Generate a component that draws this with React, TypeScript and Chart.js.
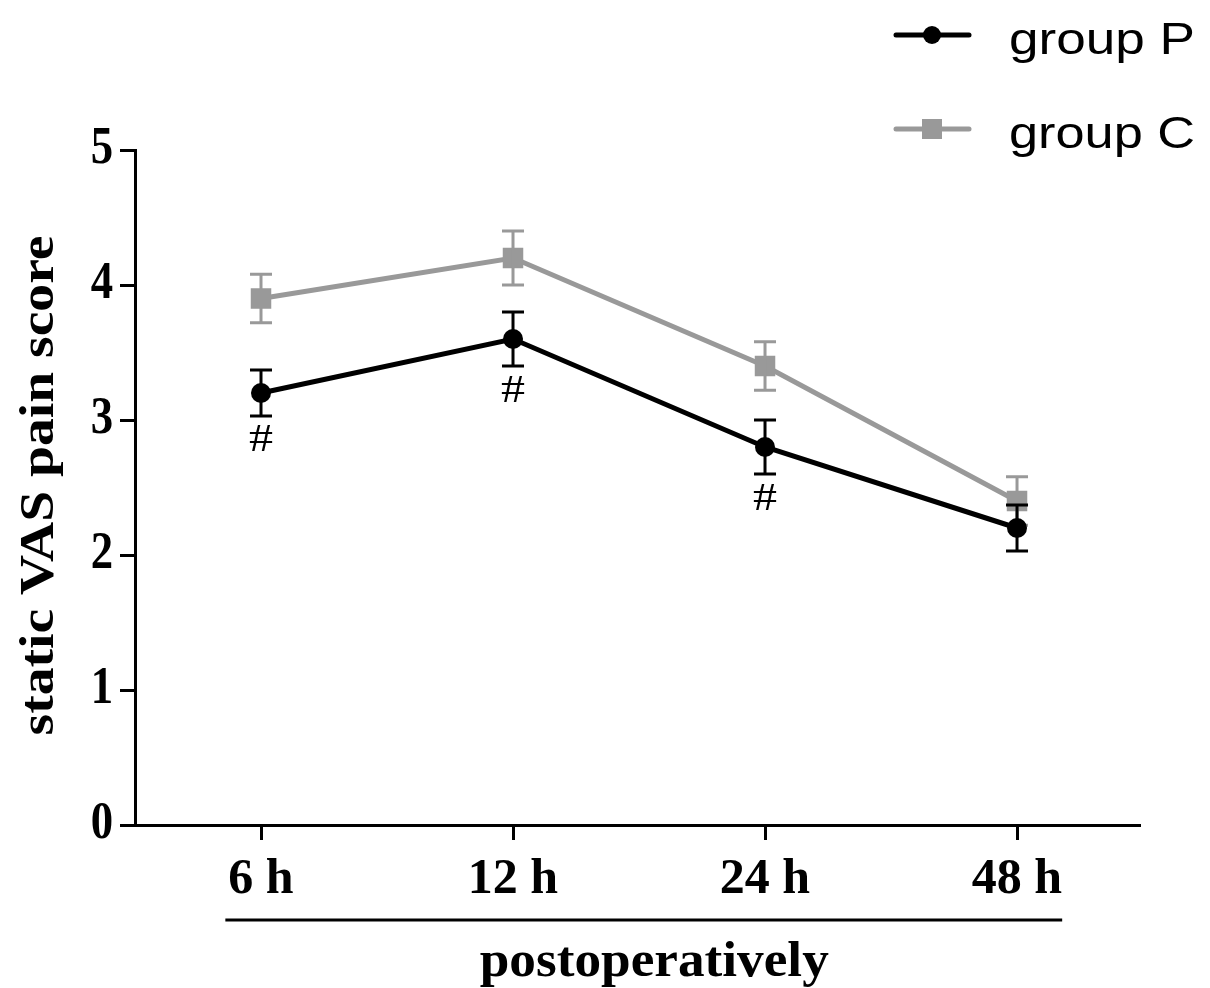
import React, { useEffect, useRef } from 'react';
import { Chart, registerables } from 'chart.js';

Chart.register(...registerables);

// ---------- data ----------
const categories = ['6 h', '12 h', '24 h', '48 h'];
const groupPLabel = 'group P';
const groupCLabel = 'group C';
const groupP = [3.2, 3.6, 2.8, 2.2];
const groupPErr = [0.17, 0.2, 0.2, 0.17];
const groupC = [3.9, 4.2, 3.4, 2.4];
const groupCErr = [0.18, 0.2, 0.18, 0.18];
const significant = [true, true, true, false];
const yTicks = [0, 1, 2, 3, 4, 5];
const yTitle = 'static VAS pain score';
const xTitle = 'postoperatively';

const SERIF = '"Liberation Serif", "Times New Roman", serif';
const SANS = '"Liberation Sans", Arial, sans-serif';
const GRAY = '#999999';

function drawText(
  ctx: CanvasRenderingContext2D,
  text: string,
  x: number,
  y: number,
  font: string,
  o: { align?: CanvasTextAlign; baseline?: CanvasTextBaseline; width?: number; sx?: number; sy?: number; rotate?: number; color?: string } = {}
) {
  ctx.save();
  ctx.font = font;
  ctx.fillStyle = o.color || '#000';
  ctx.textAlign = o.align || 'left';
  ctx.textBaseline = o.baseline || 'alphabetic';
  const w = ctx.measureText(text).width;
  let sx = o.sx ?? 1;
  if (o.width) sx = o.width / w;
  const sy = o.sy ?? 1;
  ctx.translate(x, y);
  if (o.rotate) ctx.rotate(o.rotate);
  ctx.scale(sx, sy);
  ctx.fillText(text, 0, 0);
  ctx.restore();
  return w * sx;
}

const decorations = {
  id: 'decorations',
  afterDatasetDraw(chart: any, args: any) {
    const ctx: CanvasRenderingContext2D = chart.ctx;
    const ds = chart.data.datasets[args.index];
    const xs = chart.scales.x;
    const ys = chart.scales.y;
    const errs: number[] = ds.errors || [];
    ctx.save();
    ctx.strokeStyle = ds.borderColor;
    ctx.lineWidth = 3;
    ds.data.forEach((p: any, j: number) => {
      const e = errs[j];
      const x = xs.getPixelForValue(p.x);
      const yt = ys.getPixelForValue(p.y + e);
      const yb = ys.getPixelForValue(p.y - e);
      ctx.beginPath();
      ctx.moveTo(x, yt);
      ctx.lineTo(x, yb);
      ctx.moveTo(x - 11, yt);
      ctx.lineTo(x + 11, yt);
      ctx.moveTo(x - 11, yb);
      ctx.lineTo(x + 11, yb);
      ctx.stroke();
    });
    ctx.restore();
  },
  afterDraw(chart: any) {
    const ctx: CanvasRenderingContext2D = chart.ctx;
    const xs = chart.scales.x;
    const ys = chart.scales.y;
    const area = chart.chartArea;

    // y tick labels
    yTicks.forEach((v) => {
      drawText(ctx, String(v), area.left - 22, ys.getPixelForValue(v), `bold 52px ${SERIF}`, {
        align: 'right',
        baseline: 'middle',
        sx: 0.86,
      });
    });

    // x tick labels
    const xFont = `bold 50px ${SERIF}`;
    let left = 0;
    let right = 0;
    categories.forEach((c, i) => {
      const px = xs.getPixelForValue(i + 1);
      const w = drawText(ctx, c, px, area.bottom + 68, xFont, { align: 'center' });
      if (i === 0) left = px - w / 2;
      if (i === categories.length - 1) right = px + w / 2;
    });

    // underline
    ctx.save();
    ctx.strokeStyle = '#000';
    ctx.lineWidth = 3;
    ctx.beginPath();
    ctx.moveTo(left - 3, area.bottom + 95);
    ctx.lineTo(right, area.bottom + 95);
    ctx.stroke();
    ctx.restore();

    // x title
    drawText(ctx, xTitle, (left + right) / 2 + 9, area.bottom + 151, `bold 50px ${SERIF}`, {
      align: 'center',
      width: 349,
    });

    // y title
    drawText(ctx, yTitle, 53, (area.top + area.bottom) / 2 - 2, `bold 49px ${SERIF}`, {
      align: 'center',
      rotate: -Math.PI / 2,
      width: 500,
    });

    // significance marks
    const pDs = chart.data.datasets[0];
    pDs.data.forEach((p: any, j: number) => {
      if (!significant[j]) return;
      const x = xs.getPixelForValue(p.x);
      const yb = ys.getPixelForValue(p.y - pDs.errors[j]);
      drawText(ctx, '#', x, yb + 25, `40px ${SERIF}`, { align: 'center', baseline: 'middle', sx: 1.2 });
    });

    // legend
    const items = [
      { label: groupPLabel, color: '#000', style: 'circle', y: 35 },
      { label: groupCLabel, color: GRAY, style: 'rect', y: 129 },
    ];
    items.forEach((it) => {
      ctx.save();
      ctx.strokeStyle = it.color;
      ctx.fillStyle = it.color;
      ctx.lineWidth = 5;
      ctx.lineCap = 'round';
      ctx.beginPath();
      ctx.moveTo(896, it.y);
      ctx.lineTo(969, it.y);
      ctx.stroke();
      if (it.style === 'circle') {
        ctx.beginPath();
        ctx.arc(932, it.y, 9, 0, Math.PI * 2);
        ctx.fill();
      } else {
        ctx.fillRect(922, it.y - 10, 20, 20);
      }
      ctx.restore();
      drawText(ctx, it.label, 1009, it.y + 19, `44px ${SANS}`, { width: 186 });
    });
  },
};

export default function App() {
  const ref = useRef<HTMLCanvasElement>(null);
  useEffect(() => {
    if (!ref.current) return;
    const chart = new Chart(ref.current, {
      type: 'line',
      data: {
        datasets: [
          {
            label: groupPLabel,
            data: groupP.map((v, i) => ({ x: i + 1, y: v })),
            borderColor: '#000',
            backgroundColor: '#000',
            borderWidth: 5,
            pointStyle: 'circle',
            pointRadius: 10,
            pointBorderWidth: 0,
            tension: 0,
            errors: groupPErr,
          } as any,
          {
            label: groupCLabel,
            data: groupC.map((v, i) => ({ x: i + 1, y: v })),
            borderColor: GRAY,
            backgroundColor: GRAY,
            borderWidth: 5,
            pointStyle: 'rect',
            pointRadius: 14.5,
            pointBorderWidth: 0,
            tension: 0,
            errors: groupCErr,
          } as any,
        ],
      },
      options: {
        responsive: false,
        animation: false,
        layout: { padding: { top: 150, right: 70, left: 0, bottom: 0 } },
        plugins: { legend: { display: false }, tooltip: { enabled: false } },
        scales: {
          x: {
            type: 'linear',
            min: 0.5,
            max: 4.488,
            afterBuildTicks: (s: any) => {
              s.ticks = categories.map((_, i) => ({ value: i + 1 }));
            },
            afterFit: (s: any) => {
              s.height = 163;
            },
            ticks: { display: false },
            grid: { display: true, drawOnChartArea: false, drawTicks: true, tickLength: 15, tickWidth: 3, tickColor: '#000' },
            border: { display: true, color: '#000', width: 3 },
          },
          y: {
            type: 'linear',
            min: 0,
            max: 5,
            afterBuildTicks: (s: any) => {
              s.ticks = yTicks.map((v) => ({ value: v }));
            },
            afterFit: (s: any) => {
              s.width = 135;
            },
            ticks: { display: false },
            grid: { display: true, drawOnChartArea: false, drawTicks: true, tickLength: 15, tickWidth: 3, tickColor: '#000' },
            border: { display: true, color: '#000', width: 3 },
          },
        },
      } as any,
      plugins: [decorations],
    });
    return () => chart.destroy();
  }, []);
  return (
    <div style={{ position: 'fixed', left: 0, top: 0, width: 1210, height: 988, background: '#fff' }}>
      <canvas ref={ref} width={1210} height={988} />
    </div>
  );
}
